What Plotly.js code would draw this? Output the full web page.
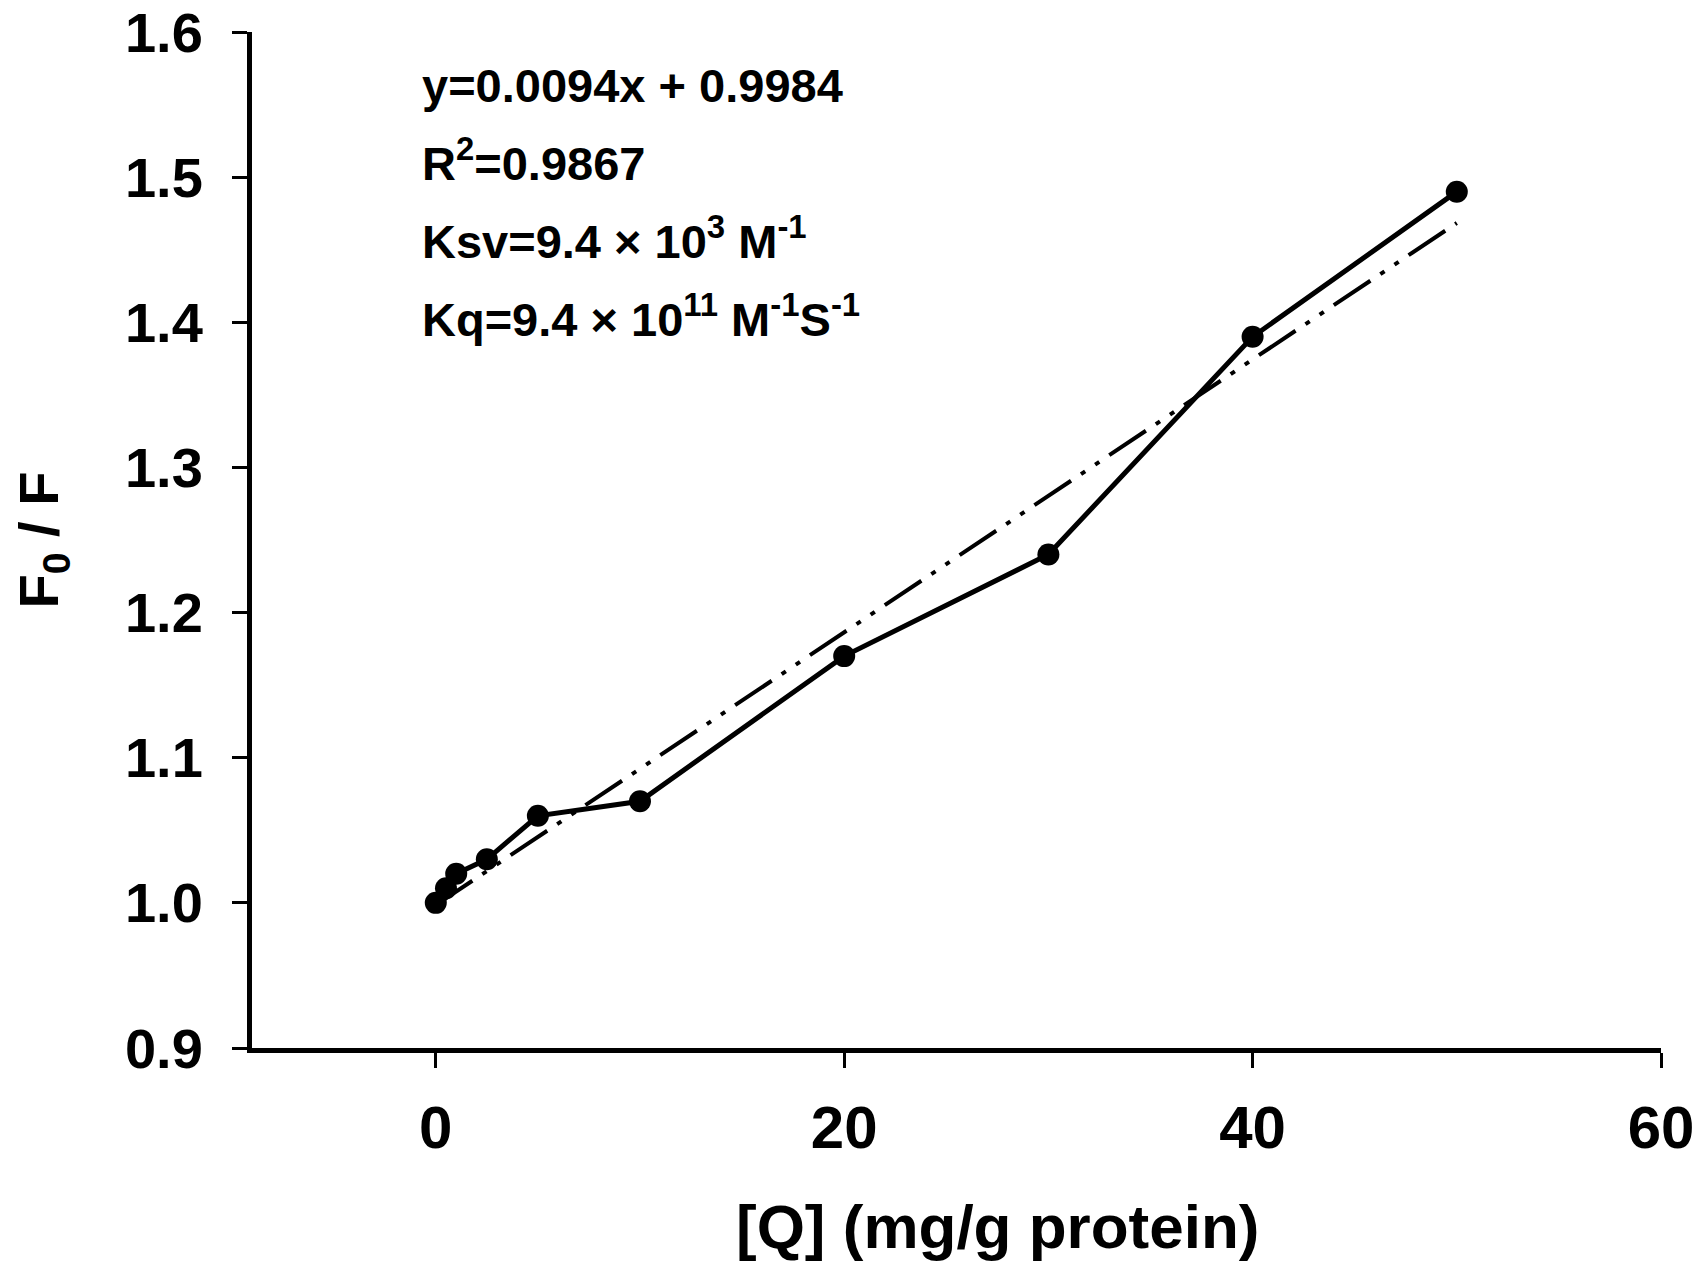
<!DOCTYPE html>
<html>
<head>
<meta charset="utf-8">
<script src="https://cdn.plot.ly/plotly-3.0.1.min.js"></script>
<style>
  html, body { margin: 0; padding: 0; background: #ffffff; }
  #chart { width: 1699px; height: 1273px; }
</style>
</head>
<body>
<div id="chart"></div>
<script>
// quencher concentration [Q] (mg/g protein) and measured F0/F
const concQ = [0, 0.5, 1, 2.5, 5, 10, 20, 30, 40, 50];
const f0OverF = [1.00, 1.01, 1.02, 1.03, 1.06, 1.07, 1.17, 1.24, 1.39, 1.49];

// linear fit y=0.0094x + 0.9984, drawn over the measured range
const fitX = [0, 50];
const fitY = [0.9984, 1.4684];

// text block in the upper left of the plot
const fitLabels = [
    'y=0.0094x + 0.9984',
    'R<sup>2</sup>=0.9867',
    'Ksv=9.4 × 10<sup>3</sup> M<sup>-1</sup>',
    'Kq=9.4 × 10<sup>11</sup> M<sup>-1</sup>S<sup>-1</sup>'
];

const yTicks = [0.9, 1.0, 1.1, 1.2, 1.3, 1.4, 1.5, 1.6];
const yTickText = ['0.9', '1.0', '1.1', '1.2', '1.3', '1.4', '1.5', '1.6'];
const xTicks = [0, 20, 40, 60];
const xTitle = '[Q] (mg/g protein)';

const FONT = 'Arial, "Liberation Sans", sans-serif';

// plot area corners in page pixels, used to place the free text
const PLOT_L = 252, PLOT_R = 1661, PLOT_T = 32, PLOT_B = 1048;
const toPaperX = (px) => (px - PLOT_L) / (PLOT_R - PLOT_L);
const toPaperY = (py) => (PLOT_B - py) / (PLOT_B - PLOT_T);

let traceData = {
    x: concQ,
    y: f0OverF,
    mode: 'lines+markers',
    type: 'scatter',
    line: { color: '#000000', width: 5 },
    marker: { color: '#000000', size: 22 },
    cliponaxis: false
};

let traceFit = {
    x: fitX,
    y: fitY,
    mode: 'lines',
    type: 'scatter',
    line: { color: '#000000', width: 4, dash: '44px,12px,5px,12px,5px,12px' },
    cliponaxis: false
};

let annotations = fitLabels.map((txt, i) => ({
    xref: 'paper', yref: 'paper',
    x: toPaperX(420),
    y: toPaperY(114 + i * 78),
    xanchor: 'left', yanchor: 'bottom',
    showarrow: false,
    text: '<b>' + txt + '</b>',
    font: { family: FONT, size: 47, color: '#000000' }
}));

// x axis title sits right of the plot centre in the reference
annotations.push({
    xref: 'paper', yref: 'paper',
    x: toPaperX(997),
    y: toPaperY(1226),
    xanchor: 'center', yanchor: 'middle',
    showarrow: false,
    text: '<b>' + xTitle + '</b>',
    font: { family: FONT, size: 62, color: '#000000' }
});

let layout = {
    width: 1699,
    height: 1273,
    margin: { l: PLOT_L, r: 1699 - PLOT_R, t: PLOT_T, b: 1273 - PLOT_B, pad: 0 },
    paper_bgcolor: '#ffffff',
    plot_bgcolor: '#ffffff',
    showlegend: false,
    font: { family: FONT, color: '#000000' },
    xaxis: {
        range: [-9, 60],
        tickvals: xTicks,
        ticks: 'outside',
        ticklen: 15,
        tickwidth: 3,
        tickcolor: '#000000',
        ticklabelstandoff: 8,
        ticklabeloverflow: 'allow',
        showline: true,
        linewidth: 5,
        linecolor: '#000000',
        showgrid: false,
        zeroline: false,
        tickfont: { family: FONT, size: 60, color: '#000000', weight: 'bold' }
    },
    yaxis: {
        range: [0.9, 1.6],
        tickvals: yTicks,
        ticktext: yTickText,
        ticks: 'outside',
        ticklen: 15,
        tickwidth: 3,
        tickcolor: '#000000',
        ticklabelstandoff: 18,
        ticklabeloverflow: 'allow',
        showline: true,
        linewidth: 5,
        linecolor: '#000000',
        showgrid: false,
        zeroline: false,
        tickfont: { family: FONT, size: 56, color: '#000000', weight: 'bold' },
        title: {
            text: '<b>F<sub>0</sub> / F</b>',
            font: { family: FONT, size: 56, color: '#000000' },
            standoff: 50
        }
    },
    annotations: annotations
};

Plotly.newPlot('chart', [traceFit, traceData], layout, { staticPlot: true, displayModeBar: false });
</script>
</body>
</html>
